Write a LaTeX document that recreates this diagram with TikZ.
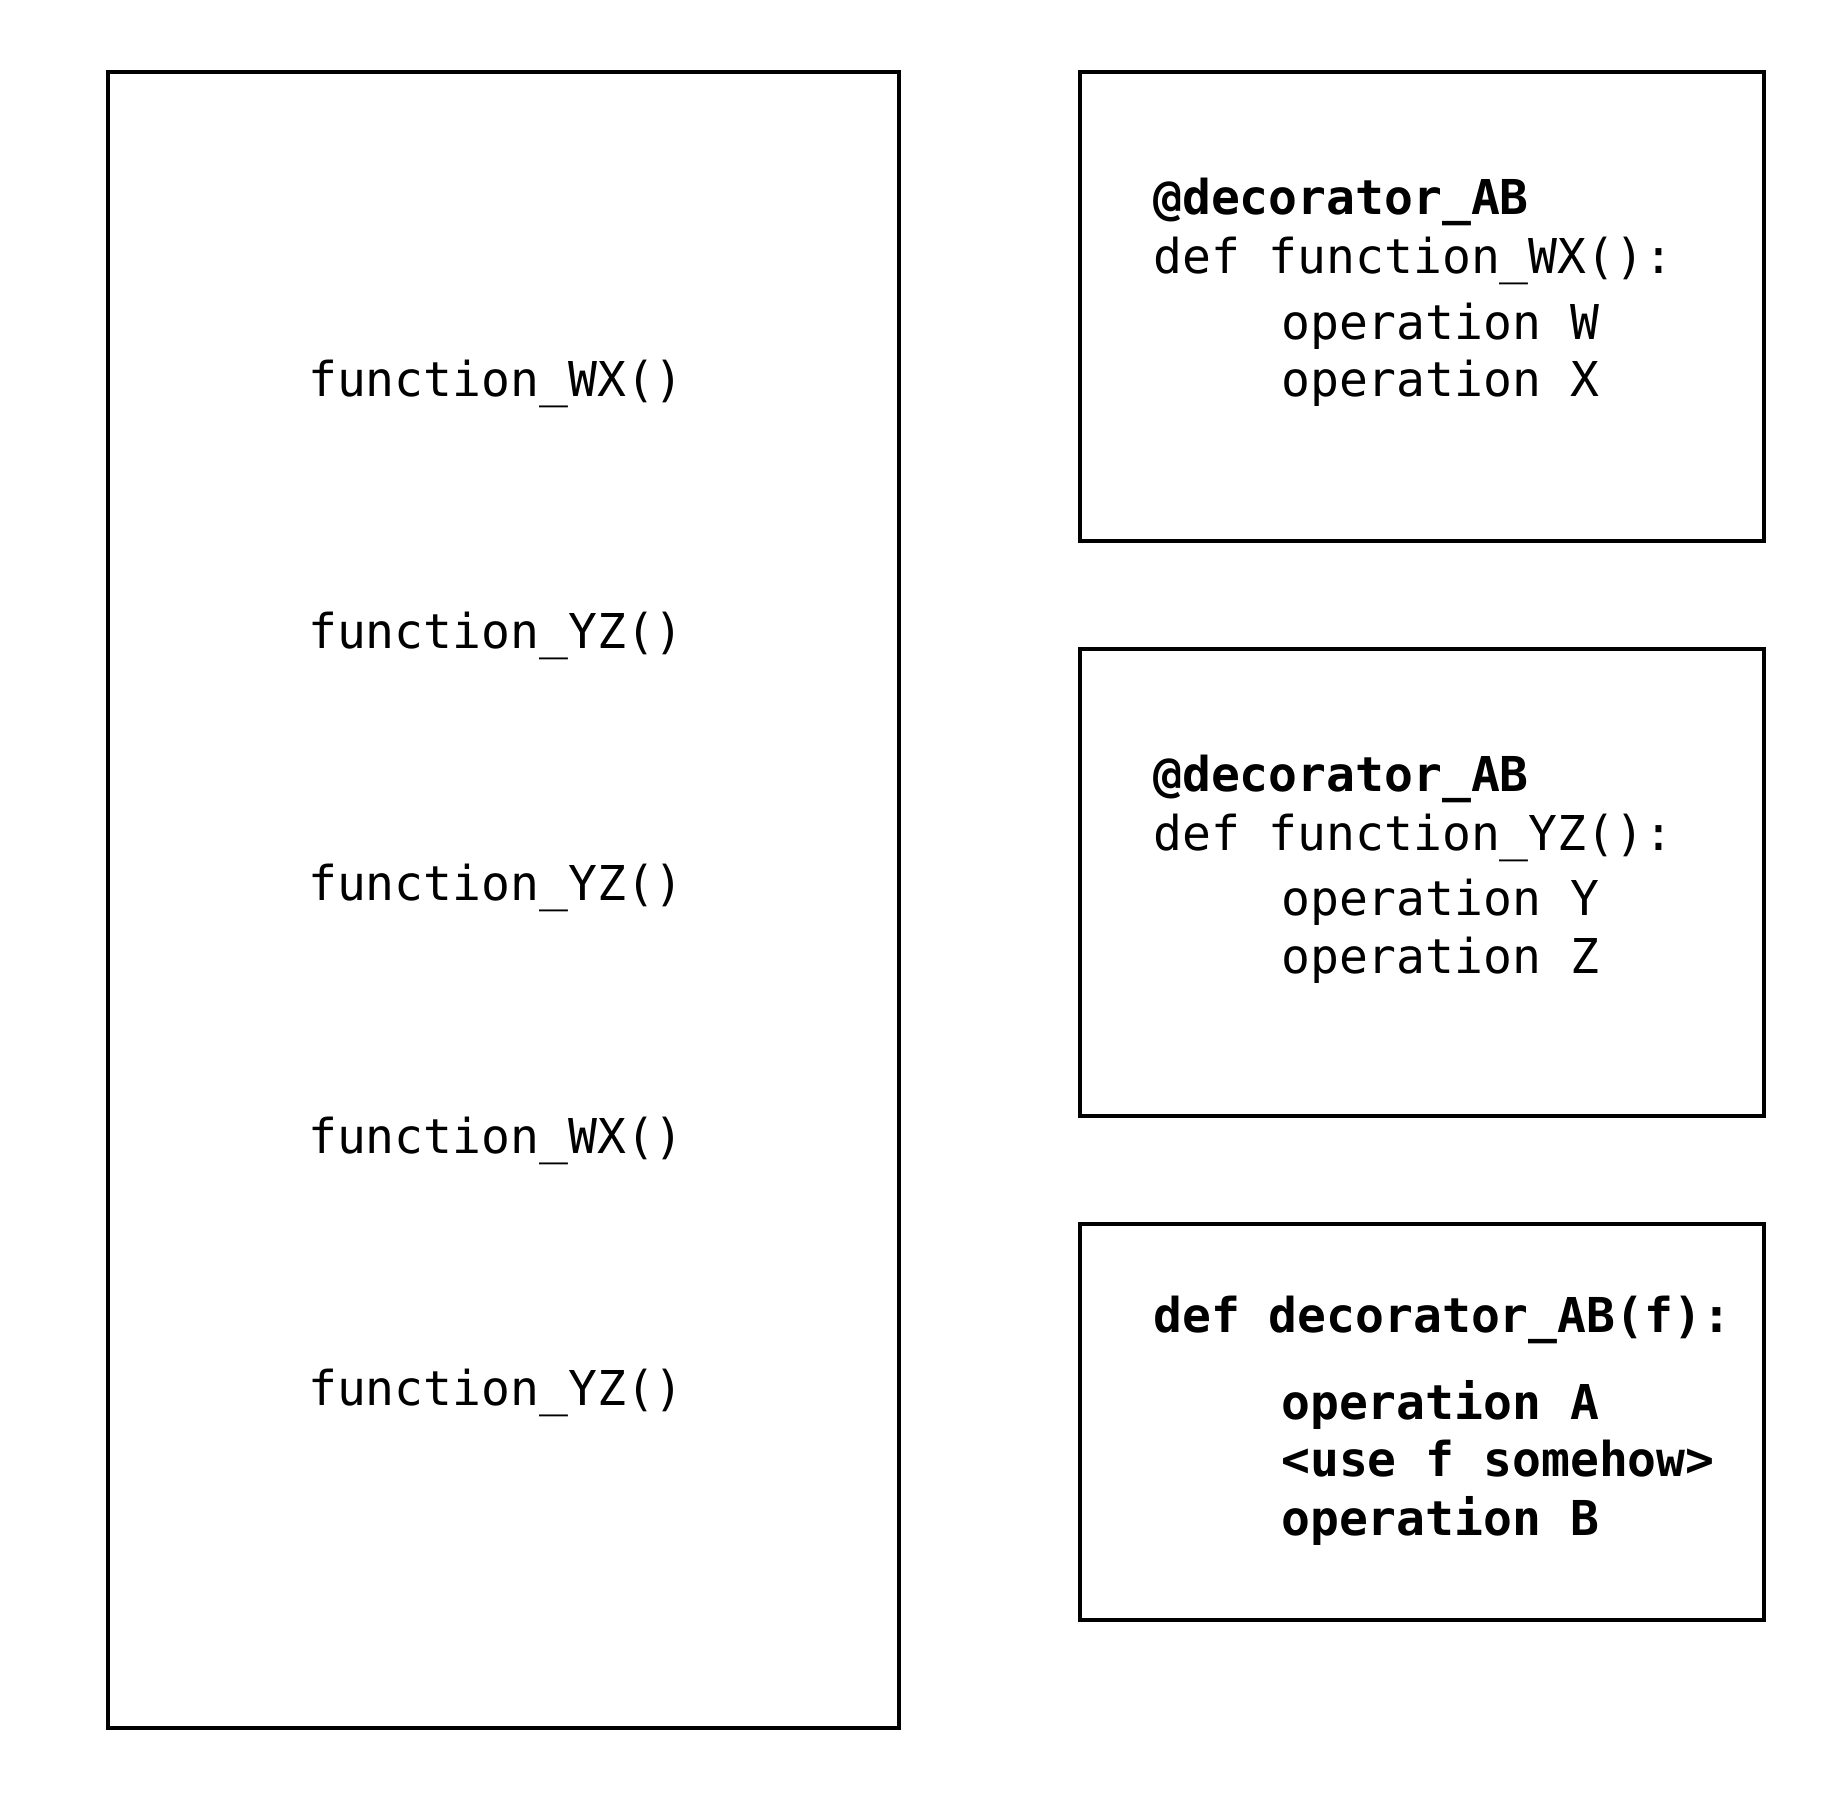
\documentclass[tikz,border=0pt]{standalone}
\usepackage{fontspec}
\newfontfamily\codefont{DejaVu Sans Mono}
\tikzset{
  frame/.style={draw=black, line width=3.5pt, fill=none},
  code/.style={anchor=base west, inner sep=0pt, font=\codefont\fontsize{48}{58}\selectfont},
  codeb/.style={code, font=\codefont\bfseries\fontsize{48}{58}\selectfont}
}
\begin{document}
\begin{tikzpicture}[x=1pt,y=-1pt]
\useasboundingbox (0,0) rectangle (1836,1800);
\draw[frame] (108,72) rectangle (899,1728);
\draw[frame] (1080,72) rectangle (1764,541);
\draw[frame] (1080,649) rectangle (1764,1116);
\draw[frame] (1080,1224) rectangle (1764,1620);
% left column
\node[code] (l1) at (308,396) {function\_WX()};
\node[code] (l2) at (308,648) {function\_YZ()};
\node[code] (l3) at (308,900) {function\_YZ()};
\node[code] (l4) at (308,1153) {function\_WX()};
\node[code] (l5) at (308,1405) {function\_YZ()};
% box 1
\node[codeb] (a1) at (1153,214) {@decorator\_AB};
\node[code] (a2) at (1153,273) {def function\_WX():};
\node[code] (a3) at (1281,339) {operation W};
\node[code] (a4) at (1281,396) {operation X};
% box 2
\node[codeb] (b1) at (1153,791) {@decorator\_AB};
\node[code] (b2) at (1153,850) {def function\_YZ():};
\node[code] (b3) at (1281,915) {operation Y};
\node[code] (b4) at (1281,973) {operation Z};
% box 3
\node[codeb] (c1) at (1153,1332) {def decorator\_AB(f):};
\node[codeb] (c2) at (1281,1419) {operation A};
\node[codeb] (c3) at (1281,1476) {<use f somehow>};
\node[codeb] (c4) at (1281,1535) {operation B};
\end{tikzpicture}
\end{document}
